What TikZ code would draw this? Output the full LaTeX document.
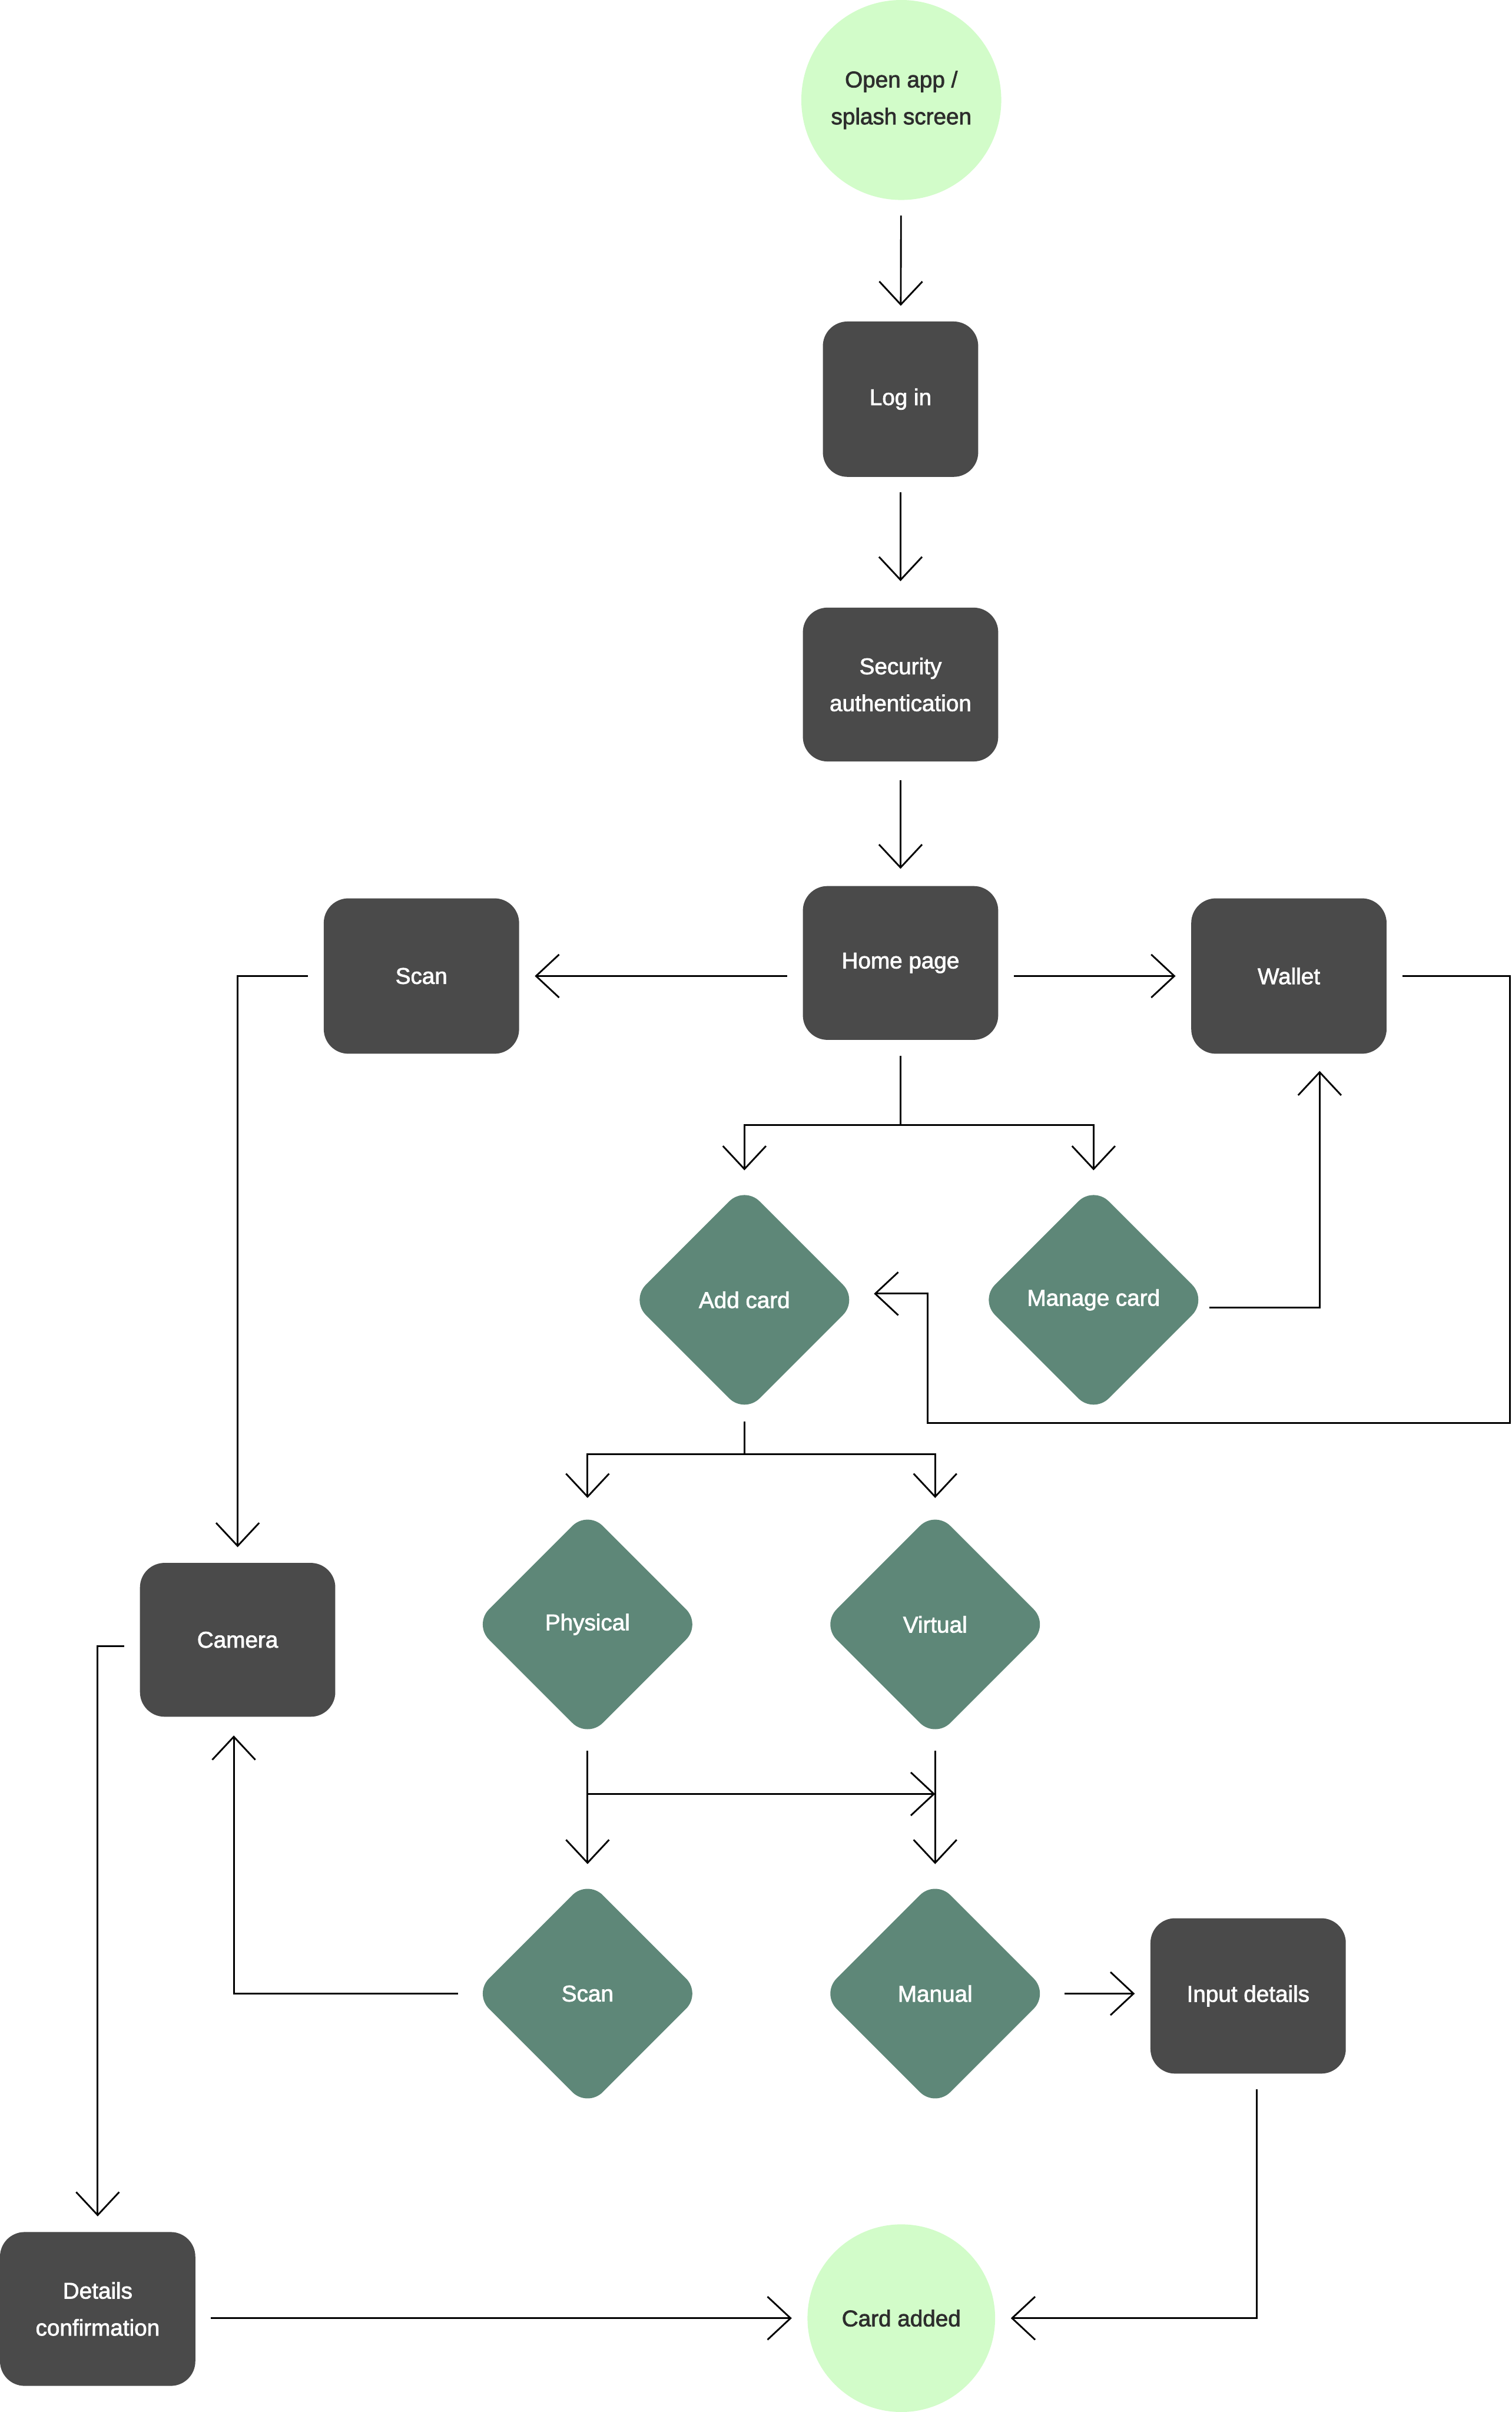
\documentclass[tikz,border=0pt]{standalone}
\usepackage{fontspec}
\setmainfont{Liberation Sans}[FakeBold=2]
\usetikzlibrary{arrows.meta,shapes.geometric,calc}
\definecolor{boxgray}{HTML}{4A4A4A}
\definecolor{diagreen}{HTML}{5E8778}
\definecolor{lightgreen}{HTML}{D2FCC9}
\definecolor{circtext}{HTML}{2D2D2D}
\begin{document}
\begin{tikzpicture}[x=1pt,y=-1pt,
  every node/.style={font=\fontsize{14.8}{24}\selectfont, align=center, inner sep=0pt},
  box/.style={rectangle, rounded corners=16pt, fill=boxgray, text=white, minimum width=127pt, minimum height=101pt},
  dia/.style={diamond, aspect=1, rounded corners=14pt, fill=diagreen, text=white, minimum width=148pt, minimum height=148pt},
  circ/.style={circle, fill=lightgreen, text=circtext},
  ln/.style={draw, line width=1.1pt},
  arr/.style={ln, -{Straight Barb[length=15pt,width=28pt]}, shorten <=10pt, shorten >=10pt}]
\useasboundingbox (0,0) rectangle (983,1568);

\node[circ, minimum size=130pt] (open) at (586,65) {Open app /\\splash screen};
\node[box, minimum width=101pt] (login) at (585.5,259.5) {Log in};
\node[box, minimum height=100pt] (sec) at (585.5,445) {Security\\authentication};
\node[box, minimum height=100pt] (home) at (585.5,626) {Home page};
\node[box] (scan1) at (274,634.5) {Scan};
\node[box] (wallet) at (838,634.5) {Wallet};
\node[dia] (add) at (484,845) {Add card};
\node[dia] (manage) at (711,845) {Manage card};
\node[box, minimum height=100pt] (camera) at (154.5,1066) {Camera};
\node[dia] (phys) at (382,1056) {Physical};
\node[dia] (virt) at (608,1056) {Virtual};
\node[dia] (scan2) at (382,1296) {Scan};
\node[dia] (manual) at (608,1296) {Manual};
\node[box] (input) at (811.5,1297.5) {Input details};
\node[box, minimum height=100pt] (details) at (63.5,1501) {Details\\confirmation};
\node[circ, minimum size=122pt] (added) at (586,1507) {Card added};

% main spine
\draw[arr] (open) -- (login);
\draw[arr, shorten >=17pt] (login) -- (sec);
\draw[arr, shorten <=12pt, shorten >=11pt] (sec) -- (home);

% home left / right
\draw[arr] (home.west |- scan1) -- (scan1.east);
\draw[arr] (home.east |- wallet) -- (wallet.west);

% home down branches
\coordinate (hb) at ($(home.south)+(0,55)$);
\draw[ln, shorten <=10pt] (home.south) -- (hb);
\draw[arr, shorten <=0pt] (hb) -| (add.north);
\draw[arr, shorten <=0pt] (hb) -| (manage.north);

% manage -> wallet
\draw[arr, shorten <=1pt, shorten >=11pt] ($(manage.east)+(0,5)$) -| ($(wallet.south)+(20,0)$);

% wallet -> add card loop
\draw[arr] (wallet.east) -- ++(80,0) -- ++(0,290.5) -| ($(add.east)+(45,-4)$) -- ($(add.east)+(0,-4)$);

% add card down branches
\coordinate (ab) at ($(add.south)+(0,26)$);
\draw[ln, shorten <=5pt] (add.south) -- (ab);
\draw[arr, shorten <=0pt, shorten >=8pt] (ab) -| (phys.north);
\draw[arr, shorten <=0pt, shorten >=8pt] (ab) -| (virt.north);

% physical / virtual down
\draw[arr, shorten <=8pt] (phys.south) -- (scan2.north);
\draw[arr, shorten <=8pt] (virt.south) -- (manual.north);
\draw[arr, shorten <=0pt, shorten >=0pt] ($(phys.south)+(0,36)$) -- ($(virt.south)+(0,36)$);

% scan (top) -> camera
\draw[arr] (scan1.west) -| (camera.north);

% scan diamond -> camera
\draw[arr, shorten >=12pt] (scan2.west) -| ($(camera.south)+(-2.5,0)$);

% manual -> input details
\draw[arr] (manual.east) -- (input.west |- manual.east);

% input details -> card added
\draw[arr] ($(input.south)+(5.5,0)$) |- (added.east);

% camera -> details confirmation
\draw[arr] ($(camera.west)+(0,4)$) -| (details.north);

% details -> card added
\draw[arr] (details.east |- added) -- (added.west);
\end{tikzpicture}
\end{document}
